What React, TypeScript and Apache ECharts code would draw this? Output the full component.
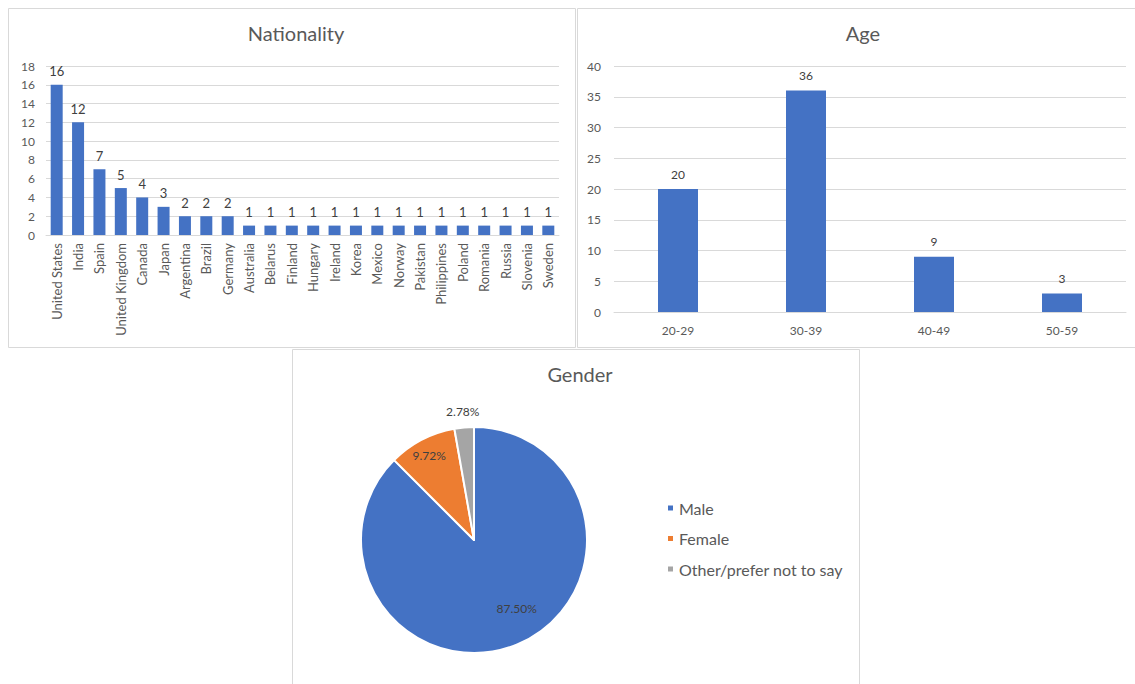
import React, { useEffect, useRef } from "react";
import * as echarts from "echarts";

const natCategories = [
  "United States", "India", "Spain", "United Kingdom", "Canada", "Japan",
  "Argentina", "Brazil", "Germany", "Australia", "Belarus", "Finland",
  "Hungary", "Ireland", "Korea", "Mexico", "Norway", "Pakistan",
  "Philippines", "Poland", "Romania", "Russia", "Slovenia", "Sweden",
];
const natValues = [16, 12, 7, 5, 4, 3, 2, 2, 2, 1, 1, 1, 1, 1, 1, 1, 1, 1, 1, 1, 1, 1, 1, 1];

const ageCategories = ["20-29", "30-39", "40-49", "50-59"];
const ageValues = [20, 36, 9, 3];

const genderNames = ["Male", "Female", "Other/prefer not to say"];
const genderValues = [63, 7, 2];
const genderColors = ["#4472C4", "#ED7D31", "#A5A5A5"];

const FONT = "Lato, 'Noto Sans', sans-serif";
const AXIS_COLOR = "#595959";
const GRID_COLOR = "#d9d9d9";
const BAR_COLOR = "#4472C4";

export default function App() {
  const ref = useRef<HTMLDivElement>(null);
  useEffect(() => {
    if (!ref.current) return;
    const chart = echarts.init(ref.current, undefined, { renderer: "svg" });
    const genderData = genderNames.map((n, i) => ({
      name: n,
      value: genderValues[i],
      itemStyle: { color: genderColors[i] },
    }));
    const pctFmt = (p: any) => p.percent.toFixed(2) + "%";
    const labelPie = (idx: number, radius: any, offset: number[]) => ({
      type: "pie",
      center: [474, 540],
      radius,
      startAngle: 90,
      silent: true,
      emphasis: { disabled: true },
      itemStyle: { color: "transparent", borderWidth: 0 },
      label: { show: false },
      labelLine: { show: false },
      data: genderNames.map((n, i) => ({
        name: n,
        value: genderValues[i],
        itemStyle: { color: "transparent" },
        label:
          i === idx
            ? {
                show: true,
                position: "inside",
                formatter: pctFmt,
                color: "#404040",
                fontSize: 12,
                fontFamily: FONT,
                offset,
              }
            : { show: false },
      })),
    });

    const titleStyle = { fontSize: 20, fontWeight: "normal", color: AXIS_COLOR, fontFamily: FONT };

    chart.setOption({
      animation: false,
      backgroundColor: "#ffffff",
      textStyle: { fontFamily: FONT },
      graphic: [
        { type: "rect", shape: { x: 8.5, y: 8.5, width: 567, height: 339 }, style: { fill: "none", stroke: GRID_COLOR, lineWidth: 1 }, silent: true },
        { type: "rect", shape: { x: 577.5, y: 8.5, width: 570, height: 339 }, style: { fill: "none", stroke: GRID_COLOR, lineWidth: 1 }, silent: true },
        { type: "rect", shape: { x: 292.5, y: 349.5, width: 567, height: 350 }, style: { fill: "none", stroke: GRID_COLOR, lineWidth: 1 }, silent: true },
      ],
      title: [
        { text: "Nationality", left: 291, top: 18, textAlign: "center", textStyle: titleStyle },
        { text: "Age", left: 858, top: 18, textAlign: "center", textStyle: titleStyle },
        { text: "Gender", left: 575, top: 359, textAlign: "center", textStyle: titleStyle },
      ],
      grid: [
        { left: 46, top: 66, width: 513, height: 169 },
        { left: 614, top: 66, width: 512, height: 246 },
      ],
      xAxis: [
        {
          type: "category",
          gridIndex: 0,
          data: natCategories,
          axisTick: { show: false },
          axisLine: { lineStyle: { color: GRID_COLOR } },
          axisLabel: { rotate: 90, interval: 0, color: AXIS_COLOR, fontSize: 13, margin: 8, fontFamily: FONT },
        },
        {
          type: "category",
          gridIndex: 1,
          data: ageCategories,
          axisTick: { show: false },
          axisLine: { lineStyle: { color: GRID_COLOR } },
          axisLabel: { color: AXIS_COLOR, fontSize: 12, margin: 12, fontFamily: FONT },
        },
      ],
      yAxis: [
        {
          type: "value",
          gridIndex: 0,
          min: 0,
          max: 18,
          interval: 2,
          axisLine: { show: false },
          axisTick: { show: false },
          splitLine: { lineStyle: { color: GRID_COLOR } },
          axisLabel: { color: AXIS_COLOR, fontSize: 12, margin: 11, fontFamily: FONT },
        },
        {
          type: "value",
          gridIndex: 1,
          min: 0,
          max: 40,
          interval: 5,
          axisLine: { show: false },
          axisTick: { show: false },
          splitLine: { lineStyle: { color: GRID_COLOR } },
          axisLabel: { color: AXIS_COLOR, fontSize: 12, margin: 13, fontFamily: FONT },
        },
      ],
      legend: {
        orient: "vertical",
        left: 661,
        top: 495,
        itemWidth: 7,
        itemHeight: 7,
        itemGap: 14.5,
        icon: "rect",
        textStyle: { color: AXIS_COLOR, fontSize: 16, fontFamily: FONT, lineHeight: 16 },
        selectedMode: false,
        data: genderNames.map((n, i) => ({ name: n, itemStyle: { color: genderColors[i] } })),
      },
      series: [
        {
          type: "bar",
          xAxisIndex: 0,
          yAxisIndex: 0,
          data: natValues,
          barWidth: 12,
          itemStyle: { color: BAR_COLOR },
          label: { show: true, position: "top", distance: 7, color: "#404040", fontSize: 13, fontFamily: FONT },
        },
        {
          type: "bar",
          xAxisIndex: 1,
          yAxisIndex: 1,
          data: ageValues,
          barWidth: 40,
          itemStyle: { color: BAR_COLOR },
          label: { show: true, position: "top", distance: 9, color: "#404040", fontSize: 12, fontFamily: FONT },
        },
        {
          type: "pie",
          name: "Gender",
          center: [474, 540],
          radius: 113,
          startAngle: 90,
          silent: true,
          emphasis: { disabled: true },
          itemStyle: { borderColor: "#ffffff", borderWidth: 2 },
          label: { show: false },
          labelLine: { show: false },
          data: genderData,
        },
        labelPie(0, [0, 160], [11, -8]),
        labelPie(1, [74, 114], [0, 2]),
        labelPie(2, [114, 138], [0, 0]),
      ],
    });
    return () => chart.dispose();
  }, []);
  return (
    <div
      ref={ref}
      style={{ position: "absolute", left: 0, top: 0, width: 1135, height: 684, background: "#fff" }}
    />
  );
}
